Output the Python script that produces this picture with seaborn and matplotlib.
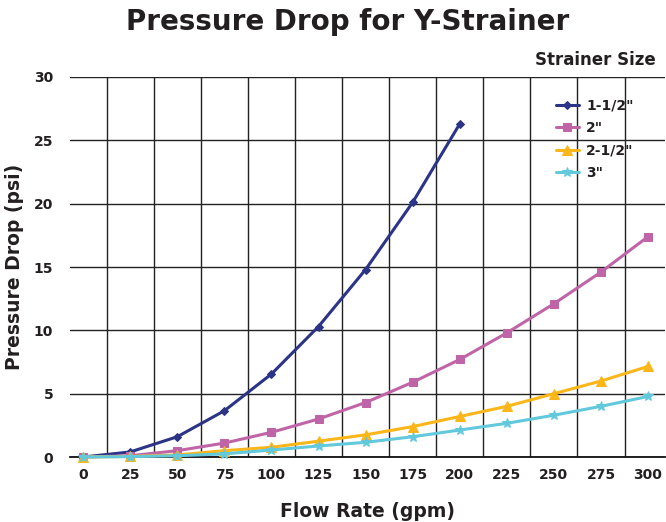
import numpy as np
import pandas as pd
import matplotlib
matplotlib.use('Agg')
import matplotlib.pyplot as plt
import seaborn as sns
from matplotlib.ticker import MultipleLocator, FixedLocator

flow = [0, 25, 50, 75, 100, 125, 150, 175, 200, 225, 250, 275, 300]
size_1_5 = [0, 0.4, 1.6, 3.65, 6.55, 10.3, 14.8, 20.1, 26.3]
size_2 = [0, 0.1, 0.5, 1.1, 1.95, 3.0, 4.3, 5.9, 7.7, 9.8, 12.1, 14.6, 17.4]
size_2_5 = [0, 0.05, 0.16, 0.5, 0.77, 1.25, 1.75, 2.4, 3.2, 4.0, 5.0, 6.0, 7.15]
size_3 = [0, 0.03, 0.1, 0.25, 0.55, 0.87, 1.16, 1.6, 2.13, 2.66, 3.3, 4.0, 4.78]

labels = ['1-1/2"', '2"', '2-1/2"', '3"']
series = [size_1_5, size_2, size_2_5, size_3]
colors = ['#2b3486', '#c064a8', '#fbb619', '#62c8dc']
markers = ['D', 's', '^', '*']
msizes = [4.5, 6, 7, 7]

sns.set_style('white')
plt.rcParams['font.family'] = ['DejaVu Sans']
ink = '#231f20'
plt.rcParams.update({'text.color': ink, 'axes.labelcolor': ink,
                     'xtick.color': ink, 'ytick.color': ink})

fig = plt.figure(figsize=(6.66, 5.22), dpi=100)
ax = fig.add_axes([0.105, 0.1245, 0.8935, 0.728])

for lab, vals, c, m, ms in zip(labels, series, colors, markers, msizes):
    df = pd.DataFrame({'flow': flow[:len(vals)], 'dp': vals})
    sns.lineplot(data=df, x='flow', y='dp', ax=ax, color=c, marker=m,
                 markersize=ms, markeredgecolor=c, linewidth=2.2,
                 label=lab, clip_on=False, zorder=3)

ax.set_xlim(-7, 309)
ax.set_ylim(0, 30)
ax.xaxis.set_major_locator(MultipleLocator(25))
ax.xaxis.set_minor_locator(FixedLocator(np.arange(12.5, 300, 25)))
ax.yaxis.set_major_locator(MultipleLocator(5))
ax.grid(False)
ax.grid(True, which='minor', axis='x', color='#222222', linewidth=1.0)
ax.grid(True, which='major', axis='y', color='#222222', linewidth=1.0)
ax.tick_params(axis='x', which='major', length=0, pad=8, labelsize=10)
ax.tick_params(axis='x', which='minor', length=4, color='#222222', width=1.0)
ax.tick_params(axis='y', which='major', length=0, pad=12, labelsize=10)
for t in ax.get_xticklabels() + ax.get_yticklabels():
    t.set_fontweight('bold')
for s in ['left', 'right', 'top']:
    ax.spines[s].set_visible(False)
ax.spines['bottom'].set_color('#111111')
ax.spines['bottom'].set_linewidth(1.3)

ax.set_xlabel('Flow Rate (gpm)', fontsize=13.5, fontweight='bold', labelpad=14)
ax.set_ylabel('Pressure Drop (psi)', fontsize=13.5, fontweight='bold', labelpad=7)
fig.suptitle('Pressure Drop for Y-Strainer', fontsize=20, fontweight='bold',
             y=0.985, x=0.522)
fig.text(0.985, 0.885, 'Strainer Size', ha='right', va='center',
         fontsize=12, fontweight='bold')

leg = ax.legend(loc='upper left', bbox_to_anchor=(0.795, 0.975), frameon=False,
                prop={'weight': 'bold', 'size': 10}, handlelength=1.7,
                labelspacing=0.6, handletextpad=0.5)

fig.savefig('out.png', dpi=100)
